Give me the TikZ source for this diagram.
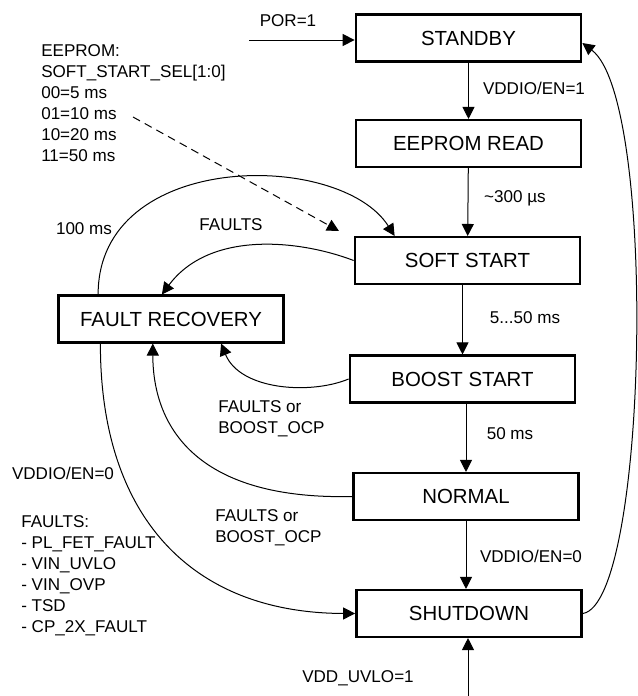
\documentclass[tikz,border=0pt]{standalone}
\usepackage{fontspec}
\setmainfont{Liberation Sans}
\usepackage{tikz}
\usetikzlibrary{arrows.meta, positioning, calc}

\begin{document}
\begin{tikzpicture}[
    x=0.75pt, y=-0.75pt,
    state/.style={rectangle, draw, line width=1.8pt, minimum width=169pt, minimum height=35pt, align=center, font=\fontsize{15.3}{18}\selectfont},
    arrow/.style={-{Triangle[length=9pt, width=9pt]}, line width=0.75pt},
    dasharrow/.style={arrow, dash pattern=on 6pt off 4pt},
    lbl/.style={inner sep=0pt, align=left, font=\fontsize{12.8}{15.75}\selectfont},
]
\useasboundingbox (0,0) rectangle (637,696);

% States - main column
\node[state] (standby) at (468.5,38) {STANDBY};
\node[state] (eeprom) at (468.5,143.5) {EEPROM READ};
\node[state] (softstart) at (467.5,260.5) {SOFT START};
\node[state] (booststart) at (462.5,379) {BOOST START};
\node[state] (normal) at (466,496.5) {NORMAL};
\node[state] (shutdown) at (469,613.5) {SHUTDOWN};

% Fault recovery on the left
\node[state] (recovery) at (171,319) {FAULT RECOVERY};

% Notes
\node[lbl, anchor=north west] (sslnote) at (41,44) {EEPROM:\\SOFT\_START\_SEL[1:0]\\00=5 ms\\01=10 ms\\10=20 ms\\11=50 ms};
\node[lbl, anchor=north west] (faultnote) at (21,515) {FAULTS:\\- PL\_FET\_FAULT\\- VIN\_UVLO\\- VIN\_OVP\\- TSD\\- CP\_2X\_FAULT};

% Free ends
\coordinate (por) at (249,40);
\coordinate (uvlo) at (468,696);
\coordinate (dashstart) at (133,117);
\coordinate (dashend) at (339,231);

% Main sequence
\draw[arrow] (por) -- (standby.west |- por);
\node[lbl] (porlbl) at (288,21) {POR=1};
\draw[arrow] (standby) -- (eeprom);
\node[lbl] (enlbl) at (534,88) {VDDIO/EN=1};
\draw[arrow] (eeprom) -- (softstart);
\node[lbl] (readlbl) at (515,198) {\textasciitilde300 µs};
\draw[arrow] (softstart.south -| booststart) -- (booststart.north);
\node[lbl] (sslbl) at (525,318) {5...50 ms};
\draw[arrow] (booststart.south -| normal) -- (normal.north);
\node[lbl] (bslbl) at (510,434) {50 ms};
\draw[arrow] (normal) -- (normal |- shutdown.north);
\node[lbl] (offlbl) at (531,556) {VDDIO/EN=0};
\draw[arrow] (uvlo) -- (uvlo |- shutdown.south);
\node[lbl] (uvlolbl) at (358,678) {VDD\_UVLO=1};
\draw[arrow] (shutdown.east) .. controls (648,603) and (658,100) .. ($(standby.east)+(0,5)$);

% Soft start selection
\draw[dasharrow] (dashstart) -- (dashend);

% Fault paths
\draw[arrow] ($(recovery.north west)!0.18!(recovery.north east)$) .. controls (98,150) and (340,150) .. ($(softstart.north west)!0.18!(softstart.north east)$);
\node[lbl] (retrylbl) at (84,229) {100 ms};
\draw[arrow] (softstart.west) .. controls (300,240) and (210,230) .. ($(recovery.north west)!0.46!(recovery.north east)$);
\node[lbl] (ssfaultlbl) at (231,225) {FAULTS};
\draw[arrow] (booststart.west) .. controls (310,395) and (240,390) .. ($(recovery.south west)!0.72!(recovery.south east)$);
\node[lbl, anchor=west] (bsfaultlbl) at (218,419) {FAULTS or\\BOOST\_OCP};
\draw[arrow] (normal.west) .. controls (200,500) and (153,430) .. ($(recovery.south west)!0.42!(recovery.south east)$);
\node[lbl, anchor=west] (nmfaultlbl) at (215,528) {FAULTS or\\BOOST\_OCP};
\draw[arrow] ($(recovery.south west)!0.19!(recovery.south east)$) .. controls (100,515) and (190,613) .. (shutdown.west);
\node[lbl] (rcofflbl) at (63,473) {VDDIO/EN=0};

\end{tikzpicture}
\end{document}
